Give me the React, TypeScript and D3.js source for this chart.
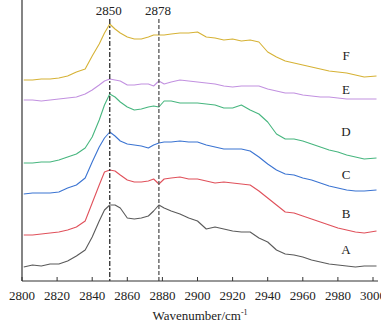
import * as d3 from "d3";

const W = 381;
const H = 324;
const M = { top: 0, right: 3, bottom: 43, left: 22 };

// wavenumber grid (cm^-1) shared by all spectra
const wavenumbers = [
  2801, 2806, 2811, 2816, 2821, 2826, 2831, 2836, 2840, 2844, 2847, 2850, 2853,
  2856, 2860, 2864, 2868, 2872, 2875, 2878, 2881, 2885, 2890, 2895, 2900, 2905,
  2910, 2915, 2920, 2925, 2930, 2935, 2940, 2945, 2950, 2955, 2960, 2965, 2970,
  2975, 2980, 2985, 2990, 2995, 3002,
];

// offset-stacked absorbance (arbitrary units)
const specA = [
  14, 16, 15, 17, 17, 20, 25, 31, 44, 60, 71, 76, 76, 73, 63, 62, 63, 65, 70, 76,
  73, 70, 67, 63, 60, 52, 54, 52, 50, 49, 49, 43, 39, 31, 27, 26, 24, 21, 19, 17,
  16, 15, 14, 15, 15,
];
const specB = [
  46, 46, 47, 48, 49, 51, 54, 60, 78, 96, 109, 111, 110, 106, 101, 99, 99, 100,
  102, 97, 102, 103, 104, 102, 102, 100, 98, 99, 98, 97, 96, 90, 83, 76, 69, 68,
  65, 62, 59, 56, 53, 51, 49, 48, 50,
];
const specC = [
  87, 88, 88, 88, 89, 93, 96, 103, 119, 134, 143, 149, 145, 140, 137, 136, 135,
  133, 136, 138, 139, 139, 140, 139, 139, 136, 134, 132, 132, 132, 130, 124, 117,
  111, 107, 106, 103, 101, 98, 95, 93, 91, 90, 90, 91,
];
const specD = [
  118, 118, 119, 119, 121, 124, 127, 133, 144, 161, 176, 187, 184, 179, 174, 171,
  172, 174, 175, 174, 180, 180, 178, 178, 178, 177, 176, 173, 173, 176, 171, 167,
  159, 147, 142, 142, 140, 137, 134, 131, 129, 126, 124, 122, 123,
];
const specE = [
  181, 181, 180, 181, 182, 183, 184, 187, 191, 196, 200, 202, 201, 200, 196, 196,
  197, 197, 195, 200, 197, 199, 201, 200, 199, 198, 197, 195, 194, 195, 195, 195,
  192, 190, 188, 188, 186, 185, 184, 184, 183, 182, 182, 182, 182,
];
const specF = [
  201, 201, 202, 202, 203, 205, 209, 212, 225, 237, 248, 257, 252, 248, 244, 242,
  242, 244, 246, 246, 246, 247, 248, 248, 249, 244, 243, 241, 242, 240, 241, 239,
  229, 224, 220, 218, 216, 214, 212, 210, 209, 208, 206, 204, 205,
];

const seriesNames = ["A", "B", "C", "D", "E", "F"];
const seriesValues = [specA, specB, specC, specD, specE, specF];
const seriesColors = ["#5a5a5a", "#e0515b", "#3b74d2", "#47b67f", "#c291e0", "#d6b235"];
// where each letter sits (same units as the spectra)
const labelValues = [32, 68, 107, 150, 192, 226];

const xTicks = d3.range(2800, 3001, 20);
const markers = [2850, 2878];

export default function App() {
  const x = d3.scaleLinear().domain([2800, 3000]).range([M.left, 373]);
  const y = d3.scaleLinear().domain([0, 281]).range([H - M.bottom, M.top]);
  const line = d3
    .line<number>()
    .x((_, i) => x(wavenumbers[i]))
    .y((v) => y(v));

  const font = "'Liberation Serif', 'Times New Roman', serif";
  const y0 = y(0);

  return (
    <svg
      width={W}
      height={H}
      style={{ position: "absolute", left: 0, top: 0, background: "#fff" }}
      fontFamily={font}
    >
      {seriesValues.map((vals, i) => (
        <path
          key={seriesNames[i]}
          d={line(vals) || ""}
          fill="none"
          stroke={seriesColors[i]}
          strokeWidth={1.1}
          strokeLinejoin="round"
        />
      ))}

      {markers.map((m, i) => (
        <g key={m}>
          <line
            x1={x(m)}
            x2={x(m)}
            y1={19}
            y2={y0}
            stroke={i === 0 ? "#2e2e2e" : "#555"}
            strokeWidth={1.3}
            strokeDasharray={i === 0 ? "5,2,2,2" : "4,2"}
          />
          <text x={x(m) - 1} y={15} textAnchor="middle" fontSize={13} fill="#222">
            {m}
          </text>
        </g>
      ))}

      {seriesNames.map((n, i) => (
        <text
          key={n}
          x={346}
          y={y(labelValues[i])}
          textAnchor="middle"
          dominantBaseline="central"
          fontSize={13}
          fill="#222"
        >
          {n}
        </text>
      ))}

      {/* axes */}
      <line x1={M.left} x2={M.left} y1={0} y2={y0} stroke="#333" strokeWidth={1.2} />
      <line x1={M.left} x2={W - M.right} y1={y0} y2={y0} stroke="#333" strokeWidth={1.2} />
      {xTicks.map((t) => (
        <g key={t}>
          <line x1={x(t)} x2={x(t)} y1={y0} y2={y0 - 4} stroke="#333" strokeWidth={1} />
          <text x={x(t)} y={300} textAnchor="middle" fontSize={13} fill="#222">
            {t}
          </text>
        </g>
      ))}
      <text x={200} y={320} textAnchor="middle" fontSize={13} fill="#222">
        Wavenumber/cm
        <tspan fontSize={8} dy={-5}>
          -1
        </tspan>
      </text>
    </svg>
  );
}
